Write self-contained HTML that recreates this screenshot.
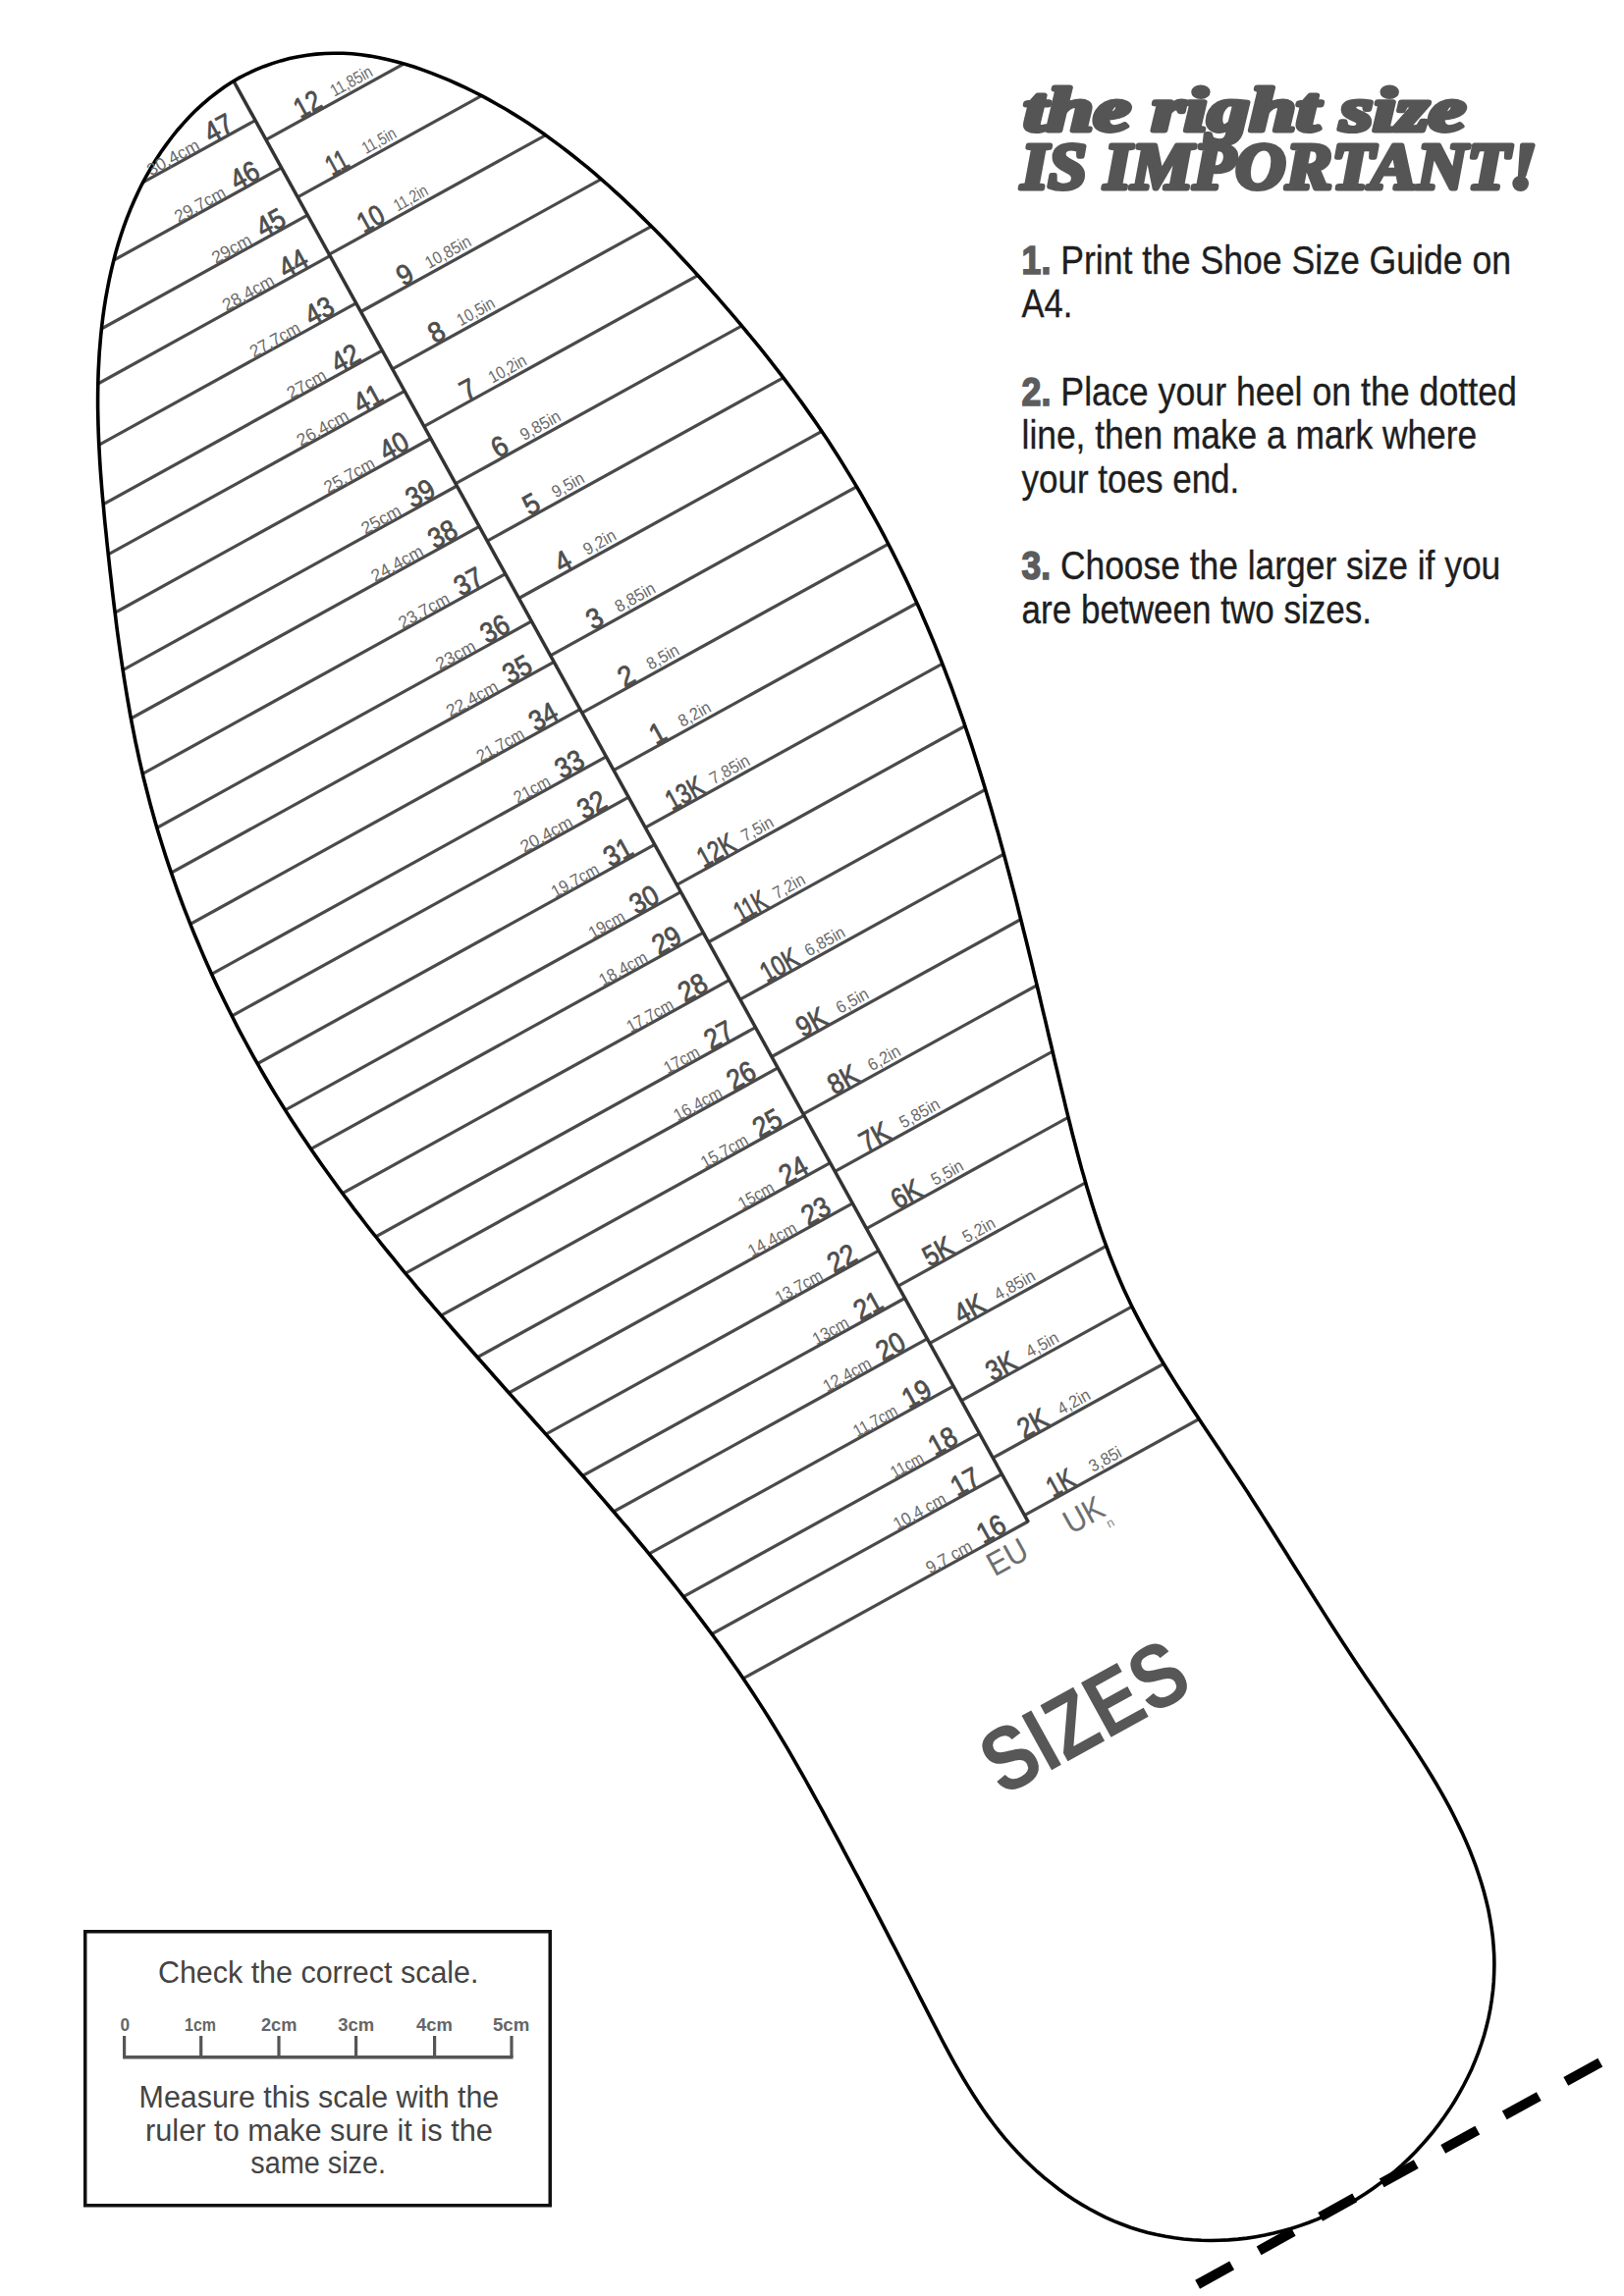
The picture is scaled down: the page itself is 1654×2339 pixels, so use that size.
<!DOCTYPE html>
<html><head><meta charset="utf-8">
<style>
html,body{margin:0;padding:0;background:#fff;}
body{width:1654px;height:2339px;position:relative;overflow:hidden;font-family:"Liberation Sans",sans-serif;}
svg{position:absolute;left:0;top:0;}
.n{font-family:"Liberation Sans",sans-serif;font-weight:normal;font-size:29px;fill:#4d4d4d;stroke:#4d4d4d;stroke-width:0.8;}
.s{font-family:"Liberation Sans",sans-serif;font-size:17.5px;fill:#6a6a6a;}
.h{font-family:"Liberation Serif",serif;font-weight:bold;font-style:italic;fill:#555;stroke:#555;stroke-width:5;stroke-linejoin:round;}
.p{font-family:"Liberation Sans",sans-serif;font-size:41px;fill:#1e1e1e;stroke:#1e1e1e;stroke-width:0.35;}
.pb{font-weight:bold;fill:#5c5c5c;stroke:#5c5c5c;stroke-width:1.6;}
.bt{font-family:"Liberation Sans",sans-serif;font-size:31px;fill:#444;}
.rl{font-family:"Liberation Sans",sans-serif;font-weight:bold;font-size:18px;fill:#666;}
</style></head><body>
<svg width="1654" height="2339" viewBox="0 0 1654 2339">
<defs><clipPath id="shoe"><path d="M102.8,340.7 L103.8,331.4 L104.9,322.2 L106.2,312.9 L107.7,303.6 L109.4,294.4 L111.2,285.2 L113.2,276.0 L115.4,266.9 L117.7,257.8 L120.3,248.8 L123.1,239.8 L126.1,230.9 L129.3,222.1 L132.8,213.4 L136.5,204.8 L140.4,196.2 L144.5,187.8 L148.9,179.5 L153.6,171.3 L158.5,163.2 L163.7,155.3 L169.1,147.6 L174.8,140.0 L180.6,132.7 L186.8,125.6 L193.1,118.7 L199.7,112.1 L206.6,105.8 L213.6,99.8 L220.9,94.2 L228.3,88.8 L236.0,83.8 L243.9,79.2 L252.0,75.0 L260.3,71.1 L268.8,67.7 L277.4,64.6 L286.1,61.9 L294.9,59.6 L303.9,57.7 L312.9,56.2 L322.0,55.1 L331.1,54.5 L340.3,54.2 L349.5,54.3 L358.6,54.8 L367.8,55.8 L377.0,57.1 L386.1,58.7 L395.2,60.7 L404.2,62.9 L413.2,65.5 L422.2,68.3 L431.0,71.4 L439.8,74.6 L448.5,78.1 L457.2,81.7 L465.7,85.5 L474.2,89.4 L482.5,93.5 L490.8,97.7 L499.0,102.1 L507.1,106.7 L515.2,111.3 L523.1,116.1 L531.0,121.1 L538.8,126.1 L546.5,131.3 L554.1,136.6 L561.7,142.1 L569.2,147.6 L576.6,153.2 L584.0,159.0 L591.3,164.8 L598.5,170.7 L605.6,176.7 L612.7,182.8 L619.7,189.0 L626.7,195.3 L633.6,201.6 L640.4,208.1 L647.2,214.5 L653.9,221.1 L660.6,227.7 L667.2,234.3 L673.8,241.0 L680.3,247.8 L686.7,254.6 L693.1,261.4 L699.5,268.2 L705.8,275.1 L712.1,282.0 L718.3,289.0 L724.4,295.9 L730.6,302.9 L736.6,309.9 L742.7,316.9 L748.7,323.9 L754.6,330.9 L760.5,338.0 L766.4,345.1 L772.2,352.2 L778.0,359.4 L783.7,366.6 L789.3,373.8 L795.0,381.1 L800.5,388.4 L806.0,395.8 L811.5,403.2 L816.9,410.6 L822.2,418.1 L827.5,425.6 L832.8,433.3 L838.0,440.9 L843.1,448.6 L848.2,456.4 L853.2,464.2 L858.1,472.1 L863.0,480.1 L867.9,488.1 L872.7,496.1 L877.4,504.2 L882.0,512.3 L886.6,520.5 L891.2,528.7 L895.7,536.9 L900.1,545.2 L904.4,553.5 L908.7,561.9 L912.9,570.2 L917.1,578.7 L921.2,587.1 L925.2,595.6 L929.1,604.1 L933.0,612.6 L936.9,621.1 L940.6,629.7 L944.3,638.2 L947.9,646.8 L951.5,655.4 L955.0,664.1 L958.4,672.7 L961.8,681.4 L965.1,690.1 L968.4,698.7 L971.6,707.5 L974.7,716.2 L977.8,724.9 L980.9,733.7 L983.9,742.5 L986.9,751.3 L989.8,760.1 L992.6,768.9 L995.4,777.7 L998.2,786.6 L1000.9,795.4 L1003.6,804.3 L1006.3,813.2 L1008.9,822.1 L1011.5,831.0 L1014.0,839.9 L1016.6,848.8 L1019.0,857.7 L1021.5,866.7 L1023.9,875.6 L1026.3,884.6 L1028.7,893.5 L1031.0,902.5 L1033.4,911.5 L1035.7,920.5 L1037.9,929.5 L1040.2,938.5 L1042.4,947.5 L1044.7,956.5 L1046.9,965.5 L1049.1,974.6 L1051.3,983.6 L1053.4,992.6 L1055.6,1001.7 L1057.8,1010.7 L1059.9,1019.8 L1062.0,1028.8 L1064.2,1037.9 L1066.3,1046.9 L1068.4,1056.0 L1070.6,1065.0 L1072.7,1074.1 L1074.8,1083.1 L1077.0,1092.2 L1079.1,1101.2 L1081.3,1110.3 L1083.5,1119.4 L1085.6,1128.4 L1087.8,1137.4 L1090.1,1146.5 L1092.3,1155.5 L1094.7,1164.5 L1097.0,1173.5 L1099.4,1182.5 L1101.8,1191.4 L1104.4,1200.3 L1106.9,1209.2 L1109.6,1218.1 L1112.3,1227.0 L1115.1,1235.8 L1118.0,1244.6 L1120.9,1253.3 L1124.0,1262.0 L1127.2,1270.7 L1130.4,1279.3 L1133.8,1287.9 L1137.3,1296.5 L1140.9,1305.0 L1144.6,1313.4 L1148.5,1321.8 L1152.5,1330.2 L1156.6,1338.4 L1160.9,1346.7 L1165.3,1354.9 L1169.8,1363.0 L1174.4,1371.1 L1179.1,1379.2 L1183.9,1387.2 L1188.8,1395.2 L1193.7,1403.1 L1198.7,1411.1 L1203.8,1419.0 L1208.9,1426.8 L1214.0,1434.7 L1219.2,1442.5 L1224.4,1450.4 L1229.6,1458.2 L1234.8,1466.0 L1240.0,1473.8 L1245.2,1481.6 L1250.4,1489.4 L1255.6,1497.2 L1260.7,1505.0 L1265.8,1512.8 L1270.9,1520.6 L1275.9,1528.5 L1280.9,1536.3 L1285.9,1544.1 L1290.9,1552.0 L1295.8,1559.8 L1300.8,1567.7 L1305.7,1575.5 L1310.6,1583.3 L1315.5,1591.2 L1320.4,1599.0 L1325.4,1606.9 L1330.3,1614.7 L1335.2,1622.5 L1340.1,1630.3 L1345.1,1638.1 L1350.0,1645.9 L1355.0,1653.7 L1360.0,1661.5 L1365.0,1669.3 L1370.1,1677.0 L1375.2,1684.8 L1380.3,1692.5 L1385.5,1700.2 L1390.7,1707.9 L1395.9,1715.6 L1401.2,1723.3 L1406.5,1731.0 L1411.7,1738.7 L1417.0,1746.4 L1422.3,1754.1 L1427.5,1761.8 L1432.7,1769.6 L1437.9,1777.4 L1443.0,1785.2 L1448.0,1793.1 L1453.0,1801.0 L1457.9,1809.0 L1462.7,1817.0 L1467.4,1825.1 L1471.9,1833.2 L1476.4,1841.4 L1480.7,1849.7 L1484.8,1858.1 L1488.9,1866.6 L1492.7,1875.1 L1496.4,1883.7 L1499.8,1892.4 L1503.1,1901.2 L1506.1,1910.0 L1508.9,1918.8 L1511.5,1927.7 L1513.8,1936.7 L1515.9,1945.7 L1517.6,1954.8 L1519.1,1963.9 L1520.3,1973.0 L1521.1,1982.1 L1521.7,1991.3 L1521.9,2000.5 L1521.7,2009.7 L1521.3,2018.9 L1520.5,2028.0 L1519.3,2037.2 L1517.9,2046.3 L1516.1,2055.3 L1514.0,2064.3 L1511.6,2073.2 L1508.8,2082.0 L1505.8,2090.7 L1502.4,2099.3 L1498.8,2107.9 L1494.8,2116.3 L1490.6,2124.5 L1486.1,2132.7 L1481.4,2140.7 L1476.4,2148.6 L1471.1,2156.3 L1465.6,2163.9 L1459.9,2171.3 L1453.9,2178.5 L1447.7,2185.6 L1441.3,2192.4 L1434.7,2199.1 L1427.9,2205.5 L1420.8,2211.8 L1413.6,2217.8 L1406.3,2223.6 L1398.7,2229.2 L1391.0,2234.5 L1383.1,2239.5 L1375.0,2244.4 L1366.9,2248.9 L1358.5,2253.2 L1350.1,2257.2 L1341.5,2260.9 L1332.8,2264.3 L1324.0,2267.4 L1315.2,2270.3 L1306.2,2272.8 L1297.2,2275.1 L1288.1,2277.1 L1278.9,2278.7 L1269.8,2280.1 L1260.6,2281.1 L1251.3,2281.9 L1242.1,2282.3 L1232.9,2282.5 L1223.7,2282.3 L1214.5,2281.8 L1205.3,2281.0 L1196.2,2279.8 L1187.1,2278.3 L1178.1,2276.6 L1169.1,2274.4 L1160.3,2272.0 L1151.5,2269.2 L1142.9,2266.0 L1134.3,2262.6 L1125.9,2258.8 L1117.6,2254.7 L1109.4,2250.3 L1101.4,2245.6 L1093.5,2240.7 L1085.7,2235.4 L1078.1,2230.0 L1070.7,2224.2 L1063.4,2218.3 L1056.3,2212.2 L1049.4,2205.8 L1042.7,2199.2 L1036.2,2192.5 L1029.9,2185.6 L1023.7,2178.6 L1017.8,2171.4 L1012.1,2164.0 L1006.6,2156.6 L1001.2,2149.0 L996.0,2141.3 L991.0,2133.5 L986.1,2125.6 L981.3,2117.7 L976.6,2109.6 L972.0,2101.6 L967.5,2093.4 L963.1,2085.2 L958.8,2077.0 L954.5,2068.7 L950.2,2060.4 L946.0,2052.1 L941.8,2043.9 L937.5,2035.6 L933.3,2027.3 L929.1,2019.0 L924.9,2010.8 L920.6,2002.5 L916.4,1994.3 L912.2,1986.0 L907.9,1977.8 L903.7,1969.6 L899.4,1961.4 L895.1,1953.2 L890.9,1945.0 L886.6,1936.8 L882.3,1928.5 L878.0,1920.4 L873.7,1912.2 L869.3,1904.0 L865.0,1895.8 L860.6,1887.6 L856.3,1879.4 L851.9,1871.2 L847.5,1863.0 L843.1,1854.8 L838.7,1846.6 L834.2,1838.5 L829.7,1830.3 L825.2,1822.1 L820.7,1814.0 L816.1,1805.9 L811.5,1797.8 L806.8,1789.7 L802.2,1781.6 L797.4,1773.6 L792.6,1765.6 L787.8,1757.7 L782.9,1749.8 L777.9,1741.9 L772.9,1734.1 L767.8,1726.3 L762.7,1718.5 L757.5,1710.8 L752.3,1703.1 L747.0,1695.5 L741.7,1687.9 L736.3,1680.3 L730.9,1672.8 L725.4,1665.3 L719.9,1657.9 L714.3,1650.4 L708.7,1643.0 L703.1,1635.7 L697.4,1628.3 L691.7,1621.0 L685.9,1613.7 L680.1,1606.4 L674.3,1599.2 L668.5,1592.0 L662.6,1584.8 L656.7,1577.6 L650.7,1570.5 L644.8,1563.3 L638.8,1556.2 L632.7,1549.1 L626.7,1542.0 L620.7,1535.0 L614.6,1527.9 L608.5,1520.9 L602.4,1513.8 L596.3,1506.8 L590.1,1499.8 L584.0,1492.8 L577.8,1485.8 L571.6,1478.8 L565.5,1471.9 L559.3,1464.9 L553.1,1457.9 L546.9,1451.0 L540.7,1444.0 L534.5,1437.0 L528.3,1430.1 L522.1,1423.1 L515.9,1416.2 L509.7,1409.2 L503.5,1402.2 L497.4,1395.3 L491.2,1388.3 L485.0,1381.3 L478.9,1374.3 L472.8,1367.3 L466.6,1360.3 L460.5,1353.3 L454.4,1346.2 L448.4,1339.2 L442.3,1332.1 L436.3,1325.0 L430.3,1318.0 L424.3,1310.8 L418.4,1303.7 L412.4,1296.6 L406.5,1289.4 L400.7,1282.2 L394.8,1275.0 L389.0,1267.8 L383.3,1260.5 L377.5,1253.3 L371.8,1246.0 L366.2,1238.6 L360.5,1231.3 L355.0,1223.9 L349.4,1216.5 L343.9,1209.0 L338.5,1201.5 L333.1,1194.0 L327.7,1186.5 L322.4,1178.9 L317.1,1171.3 L311.9,1163.6 L306.8,1155.9 L301.7,1148.2 L296.6,1140.4 L291.6,1132.6 L286.7,1124.8 L281.8,1116.9 L277.0,1109.0 L272.3,1101.0 L267.6,1093.0 L263.0,1084.9 L258.4,1076.8 L253.9,1068.7 L249.5,1060.5 L245.1,1052.3 L240.8,1044.1 L236.6,1035.8 L232.4,1027.5 L228.3,1019.2 L224.2,1010.8 L220.2,1002.4 L216.3,993.9 L212.5,985.4 L208.7,976.9 L205.0,968.4 L201.4,959.8 L197.8,951.2 L194.3,942.6 L190.9,933.9 L187.5,925.3 L184.2,916.5 L181.0,907.8 L177.9,899.0 L174.8,890.2 L171.8,881.4 L168.9,872.6 L166.1,863.7 L163.3,854.8 L160.6,845.9 L158.0,837.0 L155.5,828.0 L153.0,819.0 L150.7,810.0 L148.4,801.0 L146.1,792.0 L144.0,782.9 L141.9,773.9 L140.0,764.8 L138.0,755.7 L136.2,746.5 L134.4,737.4 L132.7,728.3 L131.1,719.1 L129.5,709.9 L128.0,700.7 L126.5,691.5 L125.1,682.3 L123.7,673.1 L122.4,663.9 L121.1,654.7 L119.8,645.5 L118.6,636.2 L117.5,627.0 L116.3,617.8 L115.2,608.5 L114.1,599.3 L113.1,590.0 L112.0,580.8 L111.0,571.5 L110.0,562.3 L109.0,553.1 L108.1,543.8 L107.1,534.6 L106.2,525.4 L105.4,516.2 L104.5,507.0 L103.7,497.7 L103.0,488.5 L102.3,479.3 L101.7,470.1 L101.2,460.9 L100.7,451.6 L100.3,442.4 L100.0,433.2 L99.8,424.0 L99.6,414.7 L99.6,405.5 L99.7,396.3 L99.9,387.0 L100.2,377.8 L100.7,368.5 L101.2,359.3 L102.0,350.0Z"/></clipPath></defs>
<g clip-path="url(#shoe)">
<g transform="translate(1047.0,1550.0) rotate(-28.87)" stroke="#4a4a4a" stroke-width="3.2">
<line x1="-1300" y1="-1629.9" x2="0" y2="-1629.9"/>
<line x1="-1300" y1="-1574.8" x2="0" y2="-1574.8"/>
<line x1="-1300" y1="-1519.7" x2="0" y2="-1519.7"/>
<line x1="-1300" y1="-1472.4" x2="0" y2="-1472.4"/>
<line x1="-1300" y1="-1417.3" x2="0" y2="-1417.3"/>
<line x1="-1300" y1="-1362.2" x2="0" y2="-1362.2"/>
<line x1="-1300" y1="-1315.0" x2="0" y2="-1315.0"/>
<line x1="-1300" y1="-1259.8" x2="0" y2="-1259.8"/>
<line x1="-1300" y1="-1204.7" x2="0" y2="-1204.7"/>
<line x1="-1300" y1="-1157.5" x2="0" y2="-1157.5"/>
<line x1="-1300" y1="-1102.4" x2="0" y2="-1102.4"/>
<line x1="-1300" y1="-1047.2" x2="0" y2="-1047.2"/>
<line x1="-1300" y1="-1000.0" x2="0" y2="-1000.0"/>
<line x1="-1300" y1="-944.9" x2="0" y2="-944.9"/>
<line x1="-1300" y1="-889.8" x2="0" y2="-889.8"/>
<line x1="-1300" y1="-842.5" x2="0" y2="-842.5"/>
<line x1="-1300" y1="-787.4" x2="0" y2="-787.4"/>
<line x1="-1300" y1="-732.3" x2="0" y2="-732.3"/>
<line x1="-1300" y1="-685.0" x2="0" y2="-685.0"/>
<line x1="-1300" y1="-629.9" x2="0" y2="-629.9"/>
<line x1="-1300" y1="-574.8" x2="0" y2="-574.8"/>
<line x1="-1300" y1="-527.6" x2="0" y2="-527.6"/>
<line x1="-1300" y1="-472.4" x2="0" y2="-472.4"/>
<line x1="-1300" y1="-417.3" x2="0" y2="-417.3"/>
<line x1="-1300" y1="-370.1" x2="0" y2="-370.1"/>
<line x1="-1300" y1="-315.0" x2="0" y2="-315.0"/>
<line x1="-1300" y1="-259.8" x2="0" y2="-259.8"/>
<line x1="-1300" y1="-212.6" x2="0" y2="-212.6"/>
<line x1="-1300" y1="-157.5" x2="0" y2="-157.5"/>
<line x1="-1300" y1="-102.4" x2="0" y2="-102.4"/>
<line x1="-1300" y1="-55.1" x2="0" y2="-55.1"/>
<line x1="-1300" y1="-0.0" x2="0" y2="-0.0"/>
<line x1="0" y1="-1607.4" x2="1300" y2="-1607.4"/>
<line x1="0" y1="-1540.7" x2="1300" y2="-1540.7"/>
<line x1="0" y1="-1474.0" x2="1300" y2="-1474.0"/>
<line x1="0" y1="-1407.4" x2="1300" y2="-1407.4"/>
<line x1="0" y1="-1340.7" x2="1300" y2="-1340.7"/>
<line x1="0" y1="-1274.0" x2="1300" y2="-1274.0"/>
<line x1="0" y1="-1207.4" x2="1300" y2="-1207.4"/>
<line x1="0" y1="-1140.7" x2="1300" y2="-1140.7"/>
<line x1="0" y1="-1074.0" x2="1300" y2="-1074.0"/>
<line x1="0" y1="-1007.4" x2="1300" y2="-1007.4"/>
<line x1="0" y1="-940.7" x2="1300" y2="-940.7"/>
<line x1="0" y1="-874.0" x2="1300" y2="-874.0"/>
<line x1="0" y1="-807.3" x2="1300" y2="-807.3"/>
<line x1="0" y1="-740.7" x2="1300" y2="-740.7"/>
<line x1="0" y1="-674.0" x2="1300" y2="-674.0"/>
<line x1="0" y1="-607.3" x2="1300" y2="-607.3"/>
<line x1="0" y1="-540.7" x2="1300" y2="-540.7"/>
<line x1="0" y1="-474.0" x2="1300" y2="-474.0"/>
<line x1="0" y1="-407.3" x2="1300" y2="-407.3"/>
<line x1="0" y1="-340.7" x2="1300" y2="-340.7"/>
<line x1="0" y1="-274.0" x2="1300" y2="-274.0"/>
<line x1="0" y1="-207.3" x2="1300" y2="-207.3"/>
<line x1="0" y1="-140.6" x2="1300" y2="-140.6"/>
<line x1="0" y1="-74.0" x2="1300" y2="-74.0"/>
<line x1="0" y1="-7.3" x2="1300" y2="-7.3"/>
</g>
<g transform="translate(1047.0,1550.0) rotate(-28.87)">
<line x1="0" y1="-1800" x2="0" y2="1" stroke="#333" stroke-width="3.5"/>
</g>
</g>
<path d="M102.8,340.7 L103.8,331.4 L104.9,322.2 L106.2,312.9 L107.7,303.6 L109.4,294.4 L111.2,285.2 L113.2,276.0 L115.4,266.9 L117.7,257.8 L120.3,248.8 L123.1,239.8 L126.1,230.9 L129.3,222.1 L132.8,213.4 L136.5,204.8 L140.4,196.2 L144.5,187.8 L148.9,179.5 L153.6,171.3 L158.5,163.2 L163.7,155.3 L169.1,147.6 L174.8,140.0 L180.6,132.7 L186.8,125.6 L193.1,118.7 L199.7,112.1 L206.6,105.8 L213.6,99.8 L220.9,94.2 L228.3,88.8 L236.0,83.8 L243.9,79.2 L252.0,75.0 L260.3,71.1 L268.8,67.7 L277.4,64.6 L286.1,61.9 L294.9,59.6 L303.9,57.7 L312.9,56.2 L322.0,55.1 L331.1,54.5 L340.3,54.2 L349.5,54.3 L358.6,54.8 L367.8,55.8 L377.0,57.1 L386.1,58.7 L395.2,60.7 L404.2,62.9 L413.2,65.5 L422.2,68.3 L431.0,71.4 L439.8,74.6 L448.5,78.1 L457.2,81.7 L465.7,85.5 L474.2,89.4 L482.5,93.5 L490.8,97.7 L499.0,102.1 L507.1,106.7 L515.2,111.3 L523.1,116.1 L531.0,121.1 L538.8,126.1 L546.5,131.3 L554.1,136.6 L561.7,142.1 L569.2,147.6 L576.6,153.2 L584.0,159.0 L591.3,164.8 L598.5,170.7 L605.6,176.7 L612.7,182.8 L619.7,189.0 L626.7,195.3 L633.6,201.6 L640.4,208.1 L647.2,214.5 L653.9,221.1 L660.6,227.7 L667.2,234.3 L673.8,241.0 L680.3,247.8 L686.7,254.6 L693.1,261.4 L699.5,268.2 L705.8,275.1 L712.1,282.0 L718.3,289.0 L724.4,295.9 L730.6,302.9 L736.6,309.9 L742.7,316.9 L748.7,323.9 L754.6,330.9 L760.5,338.0 L766.4,345.1 L772.2,352.2 L778.0,359.4 L783.7,366.6 L789.3,373.8 L795.0,381.1 L800.5,388.4 L806.0,395.8 L811.5,403.2 L816.9,410.6 L822.2,418.1 L827.5,425.6 L832.8,433.3 L838.0,440.9 L843.1,448.6 L848.2,456.4 L853.2,464.2 L858.1,472.1 L863.0,480.1 L867.9,488.1 L872.7,496.1 L877.4,504.2 L882.0,512.3 L886.6,520.5 L891.2,528.7 L895.7,536.9 L900.1,545.2 L904.4,553.5 L908.7,561.9 L912.9,570.2 L917.1,578.7 L921.2,587.1 L925.2,595.6 L929.1,604.1 L933.0,612.6 L936.9,621.1 L940.6,629.7 L944.3,638.2 L947.9,646.8 L951.5,655.4 L955.0,664.1 L958.4,672.7 L961.8,681.4 L965.1,690.1 L968.4,698.7 L971.6,707.5 L974.7,716.2 L977.8,724.9 L980.9,733.7 L983.9,742.5 L986.9,751.3 L989.8,760.1 L992.6,768.9 L995.4,777.7 L998.2,786.6 L1000.9,795.4 L1003.6,804.3 L1006.3,813.2 L1008.9,822.1 L1011.5,831.0 L1014.0,839.9 L1016.6,848.8 L1019.0,857.7 L1021.5,866.7 L1023.9,875.6 L1026.3,884.6 L1028.7,893.5 L1031.0,902.5 L1033.4,911.5 L1035.7,920.5 L1037.9,929.5 L1040.2,938.5 L1042.4,947.5 L1044.7,956.5 L1046.9,965.5 L1049.1,974.6 L1051.3,983.6 L1053.4,992.6 L1055.6,1001.7 L1057.8,1010.7 L1059.9,1019.8 L1062.0,1028.8 L1064.2,1037.9 L1066.3,1046.9 L1068.4,1056.0 L1070.6,1065.0 L1072.7,1074.1 L1074.8,1083.1 L1077.0,1092.2 L1079.1,1101.2 L1081.3,1110.3 L1083.5,1119.4 L1085.6,1128.4 L1087.8,1137.4 L1090.1,1146.5 L1092.3,1155.5 L1094.7,1164.5 L1097.0,1173.5 L1099.4,1182.5 L1101.8,1191.4 L1104.4,1200.3 L1106.9,1209.2 L1109.6,1218.1 L1112.3,1227.0 L1115.1,1235.8 L1118.0,1244.6 L1120.9,1253.3 L1124.0,1262.0 L1127.2,1270.7 L1130.4,1279.3 L1133.8,1287.9 L1137.3,1296.5 L1140.9,1305.0 L1144.6,1313.4 L1148.5,1321.8 L1152.5,1330.2 L1156.6,1338.4 L1160.9,1346.7 L1165.3,1354.9 L1169.8,1363.0 L1174.4,1371.1 L1179.1,1379.2 L1183.9,1387.2 L1188.8,1395.2 L1193.7,1403.1 L1198.7,1411.1 L1203.8,1419.0 L1208.9,1426.8 L1214.0,1434.7 L1219.2,1442.5 L1224.4,1450.4 L1229.6,1458.2 L1234.8,1466.0 L1240.0,1473.8 L1245.2,1481.6 L1250.4,1489.4 L1255.6,1497.2 L1260.7,1505.0 L1265.8,1512.8 L1270.9,1520.6 L1275.9,1528.5 L1280.9,1536.3 L1285.9,1544.1 L1290.9,1552.0 L1295.8,1559.8 L1300.8,1567.7 L1305.7,1575.5 L1310.6,1583.3 L1315.5,1591.2 L1320.4,1599.0 L1325.4,1606.9 L1330.3,1614.7 L1335.2,1622.5 L1340.1,1630.3 L1345.1,1638.1 L1350.0,1645.9 L1355.0,1653.7 L1360.0,1661.5 L1365.0,1669.3 L1370.1,1677.0 L1375.2,1684.8 L1380.3,1692.5 L1385.5,1700.2 L1390.7,1707.9 L1395.9,1715.6 L1401.2,1723.3 L1406.5,1731.0 L1411.7,1738.7 L1417.0,1746.4 L1422.3,1754.1 L1427.5,1761.8 L1432.7,1769.6 L1437.9,1777.4 L1443.0,1785.2 L1448.0,1793.1 L1453.0,1801.0 L1457.9,1809.0 L1462.7,1817.0 L1467.4,1825.1 L1471.9,1833.2 L1476.4,1841.4 L1480.7,1849.7 L1484.8,1858.1 L1488.9,1866.6 L1492.7,1875.1 L1496.4,1883.7 L1499.8,1892.4 L1503.1,1901.2 L1506.1,1910.0 L1508.9,1918.8 L1511.5,1927.7 L1513.8,1936.7 L1515.9,1945.7 L1517.6,1954.8 L1519.1,1963.9 L1520.3,1973.0 L1521.1,1982.1 L1521.7,1991.3 L1521.9,2000.5 L1521.7,2009.7 L1521.3,2018.9 L1520.5,2028.0 L1519.3,2037.2 L1517.9,2046.3 L1516.1,2055.3 L1514.0,2064.3 L1511.6,2073.2 L1508.8,2082.0 L1505.8,2090.7 L1502.4,2099.3 L1498.8,2107.9 L1494.8,2116.3 L1490.6,2124.5 L1486.1,2132.7 L1481.4,2140.7 L1476.4,2148.6 L1471.1,2156.3 L1465.6,2163.9 L1459.9,2171.3 L1453.9,2178.5 L1447.7,2185.6 L1441.3,2192.4 L1434.7,2199.1 L1427.9,2205.5 L1420.8,2211.8 L1413.6,2217.8 L1406.3,2223.6 L1398.7,2229.2 L1391.0,2234.5 L1383.1,2239.5 L1375.0,2244.4 L1366.9,2248.9 L1358.5,2253.2 L1350.1,2257.2 L1341.5,2260.9 L1332.8,2264.3 L1324.0,2267.4 L1315.2,2270.3 L1306.2,2272.8 L1297.2,2275.1 L1288.1,2277.1 L1278.9,2278.7 L1269.8,2280.1 L1260.6,2281.1 L1251.3,2281.9 L1242.1,2282.3 L1232.9,2282.5 L1223.7,2282.3 L1214.5,2281.8 L1205.3,2281.0 L1196.2,2279.8 L1187.1,2278.3 L1178.1,2276.6 L1169.1,2274.4 L1160.3,2272.0 L1151.5,2269.2 L1142.9,2266.0 L1134.3,2262.6 L1125.9,2258.8 L1117.6,2254.7 L1109.4,2250.3 L1101.4,2245.6 L1093.5,2240.7 L1085.7,2235.4 L1078.1,2230.0 L1070.7,2224.2 L1063.4,2218.3 L1056.3,2212.2 L1049.4,2205.8 L1042.7,2199.2 L1036.2,2192.5 L1029.9,2185.6 L1023.7,2178.6 L1017.8,2171.4 L1012.1,2164.0 L1006.6,2156.6 L1001.2,2149.0 L996.0,2141.3 L991.0,2133.5 L986.1,2125.6 L981.3,2117.7 L976.6,2109.6 L972.0,2101.6 L967.5,2093.4 L963.1,2085.2 L958.8,2077.0 L954.5,2068.7 L950.2,2060.4 L946.0,2052.1 L941.8,2043.9 L937.5,2035.6 L933.3,2027.3 L929.1,2019.0 L924.9,2010.8 L920.6,2002.5 L916.4,1994.3 L912.2,1986.0 L907.9,1977.8 L903.7,1969.6 L899.4,1961.4 L895.1,1953.2 L890.9,1945.0 L886.6,1936.8 L882.3,1928.5 L878.0,1920.4 L873.7,1912.2 L869.3,1904.0 L865.0,1895.8 L860.6,1887.6 L856.3,1879.4 L851.9,1871.2 L847.5,1863.0 L843.1,1854.8 L838.7,1846.6 L834.2,1838.5 L829.7,1830.3 L825.2,1822.1 L820.7,1814.0 L816.1,1805.9 L811.5,1797.8 L806.8,1789.7 L802.2,1781.6 L797.4,1773.6 L792.6,1765.6 L787.8,1757.7 L782.9,1749.8 L777.9,1741.9 L772.9,1734.1 L767.8,1726.3 L762.7,1718.5 L757.5,1710.8 L752.3,1703.1 L747.0,1695.5 L741.7,1687.9 L736.3,1680.3 L730.9,1672.8 L725.4,1665.3 L719.9,1657.9 L714.3,1650.4 L708.7,1643.0 L703.1,1635.7 L697.4,1628.3 L691.7,1621.0 L685.9,1613.7 L680.1,1606.4 L674.3,1599.2 L668.5,1592.0 L662.6,1584.8 L656.7,1577.6 L650.7,1570.5 L644.8,1563.3 L638.8,1556.2 L632.7,1549.1 L626.7,1542.0 L620.7,1535.0 L614.6,1527.9 L608.5,1520.9 L602.4,1513.8 L596.3,1506.8 L590.1,1499.8 L584.0,1492.8 L577.8,1485.8 L571.6,1478.8 L565.5,1471.9 L559.3,1464.9 L553.1,1457.9 L546.9,1451.0 L540.7,1444.0 L534.5,1437.0 L528.3,1430.1 L522.1,1423.1 L515.9,1416.2 L509.7,1409.2 L503.5,1402.2 L497.4,1395.3 L491.2,1388.3 L485.0,1381.3 L478.9,1374.3 L472.8,1367.3 L466.6,1360.3 L460.5,1353.3 L454.4,1346.2 L448.4,1339.2 L442.3,1332.1 L436.3,1325.0 L430.3,1318.0 L424.3,1310.8 L418.4,1303.7 L412.4,1296.6 L406.5,1289.4 L400.7,1282.2 L394.8,1275.0 L389.0,1267.8 L383.3,1260.5 L377.5,1253.3 L371.8,1246.0 L366.2,1238.6 L360.5,1231.3 L355.0,1223.9 L349.4,1216.5 L343.9,1209.0 L338.5,1201.5 L333.1,1194.0 L327.7,1186.5 L322.4,1178.9 L317.1,1171.3 L311.9,1163.6 L306.8,1155.9 L301.7,1148.2 L296.6,1140.4 L291.6,1132.6 L286.7,1124.8 L281.8,1116.9 L277.0,1109.0 L272.3,1101.0 L267.6,1093.0 L263.0,1084.9 L258.4,1076.8 L253.9,1068.7 L249.5,1060.5 L245.1,1052.3 L240.8,1044.1 L236.6,1035.8 L232.4,1027.5 L228.3,1019.2 L224.2,1010.8 L220.2,1002.4 L216.3,993.9 L212.5,985.4 L208.7,976.9 L205.0,968.4 L201.4,959.8 L197.8,951.2 L194.3,942.6 L190.9,933.9 L187.5,925.3 L184.2,916.5 L181.0,907.8 L177.9,899.0 L174.8,890.2 L171.8,881.4 L168.9,872.6 L166.1,863.7 L163.3,854.8 L160.6,845.9 L158.0,837.0 L155.5,828.0 L153.0,819.0 L150.7,810.0 L148.4,801.0 L146.1,792.0 L144.0,782.9 L141.9,773.9 L140.0,764.8 L138.0,755.7 L136.2,746.5 L134.4,737.4 L132.7,728.3 L131.1,719.1 L129.5,709.9 L128.0,700.7 L126.5,691.5 L125.1,682.3 L123.7,673.1 L122.4,663.9 L121.1,654.7 L119.8,645.5 L118.6,636.2 L117.5,627.0 L116.3,617.8 L115.2,608.5 L114.1,599.3 L113.1,590.0 L112.0,580.8 L111.0,571.5 L110.0,562.3 L109.0,553.1 L108.1,543.8 L107.1,534.6 L106.2,525.4 L105.4,516.2 L104.5,507.0 L103.7,497.7 L103.0,488.5 L102.3,479.3 L101.7,470.1 L101.2,460.9 L100.7,451.6 L100.3,442.4 L100.0,433.2 L99.8,424.0 L99.6,414.7 L99.6,405.5 L99.7,396.3 L99.9,387.0 L100.2,377.8 L100.7,368.5 L101.2,359.3 L102.0,350.0Z" fill="none" stroke="#000" stroke-width="3.6"/>
<g transform="translate(1047.0,1550.0) rotate(-28.87)">
<text class="n" x="-51" y="-1631.4" textLength="29" lengthAdjust="spacingAndGlyphs">47</text>
<text class="s" x="-120.6" y="-1631.4" textLength="58.1" lengthAdjust="spacingAndGlyphs">30,4cm</text>
<text class="n" x="-51" y="-1576.3" textLength="29" lengthAdjust="spacingAndGlyphs">46</text>
<text class="s" x="-118.9" y="-1576.3" textLength="56.4" lengthAdjust="spacingAndGlyphs">29,7cm</text>
<text class="n" x="-51" y="-1521.2" textLength="29" lengthAdjust="spacingAndGlyphs">45</text>
<text class="s" x="-106.0" y="-1521.2" textLength="43.5" lengthAdjust="spacingAndGlyphs">29cm</text>
<text class="n" x="-51" y="-1473.9" textLength="29" lengthAdjust="spacingAndGlyphs">44</text>
<text class="s" x="-119.9" y="-1473.9" textLength="57.4" lengthAdjust="spacingAndGlyphs">28,4cm</text>
<text class="n" x="-51" y="-1418.8" textLength="29" lengthAdjust="spacingAndGlyphs">43</text>
<text class="s" x="-118.2" y="-1418.8" textLength="55.7" lengthAdjust="spacingAndGlyphs">27,7cm</text>
<text class="n" x="-51" y="-1363.7" textLength="29" lengthAdjust="spacingAndGlyphs">42</text>
<text class="s" x="-105.3" y="-1363.7" textLength="42.8" lengthAdjust="spacingAndGlyphs">27cm</text>
<text class="n" x="-51" y="-1316.5" textLength="29" lengthAdjust="spacingAndGlyphs">41</text>
<text class="s" x="-119.9" y="-1316.5" textLength="57.4" lengthAdjust="spacingAndGlyphs">26,4cm</text>
<text class="n" x="-51" y="-1261.3" textLength="29" lengthAdjust="spacingAndGlyphs">40</text>
<text class="s" x="-118.7" y="-1261.3" textLength="56.2" lengthAdjust="spacingAndGlyphs">25,7cm</text>
<text class="n" x="-51" y="-1206.2" textLength="29" lengthAdjust="spacingAndGlyphs">39</text>
<text class="s" x="-105.8" y="-1206.2" textLength="43.3" lengthAdjust="spacingAndGlyphs">25cm</text>
<text class="n" x="-51" y="-1159.0" textLength="29" lengthAdjust="spacingAndGlyphs">38</text>
<text class="s" x="-120.3" y="-1159.0" textLength="57.8" lengthAdjust="spacingAndGlyphs">24,4cm</text>
<text class="n" x="-51" y="-1103.9" textLength="29" lengthAdjust="spacingAndGlyphs">37</text>
<text class="s" x="-118.9" y="-1103.9" textLength="56.4" lengthAdjust="spacingAndGlyphs">23,7cm</text>
<text class="n" x="-51" y="-1048.7" textLength="29" lengthAdjust="spacingAndGlyphs">36</text>
<text class="s" x="-106.0" y="-1048.7" textLength="43.5" lengthAdjust="spacingAndGlyphs">23cm</text>
<text class="n" x="-51" y="-1001.5" textLength="29" lengthAdjust="spacingAndGlyphs">35</text>
<text class="s" x="-119.9" y="-1001.5" textLength="57.4" lengthAdjust="spacingAndGlyphs">22,4cm</text>
<text class="n" x="-51" y="-946.4" textLength="29" lengthAdjust="spacingAndGlyphs">34</text>
<text class="s" x="-114.9" y="-946.4" textLength="52.4" lengthAdjust="spacingAndGlyphs">21,7cm</text>
<text class="n" x="-51" y="-891.3" textLength="29" lengthAdjust="spacingAndGlyphs">33</text>
<text class="s" x="-102.0" y="-891.3" textLength="39.5" lengthAdjust="spacingAndGlyphs">21cm</text>
<text class="n" x="-51" y="-844.0" textLength="29" lengthAdjust="spacingAndGlyphs">32</text>
<text class="s" x="-120.6" y="-844.0" textLength="58.1" lengthAdjust="spacingAndGlyphs">20,4cm</text>
<text class="n" x="-51" y="-788.9" textLength="29" lengthAdjust="spacingAndGlyphs">31</text>
<text class="s" x="-114.9" y="-788.9" textLength="52.4" lengthAdjust="spacingAndGlyphs">19,7cm</text>
<text class="n" x="-51" y="-733.8" textLength="29" lengthAdjust="spacingAndGlyphs">30</text>
<text class="s" x="-102.0" y="-733.8" textLength="39.5" lengthAdjust="spacingAndGlyphs">19cm</text>
<text class="n" x="-51" y="-686.5" textLength="29" lengthAdjust="spacingAndGlyphs">29</text>
<text class="s" x="-115.9" y="-686.5" textLength="53.4" lengthAdjust="spacingAndGlyphs">18,4cm</text>
<text class="n" x="-51" y="-631.4" textLength="29" lengthAdjust="spacingAndGlyphs">28</text>
<text class="s" x="-114.2" y="-631.4" textLength="51.7" lengthAdjust="spacingAndGlyphs">17,7cm</text>
<text class="n" x="-51" y="-576.3" textLength="29" lengthAdjust="spacingAndGlyphs">27</text>
<text class="s" x="-101.3" y="-576.3" textLength="38.8" lengthAdjust="spacingAndGlyphs">17cm</text>
<text class="n" x="-51" y="-529.1" textLength="29" lengthAdjust="spacingAndGlyphs">26</text>
<text class="s" x="-115.9" y="-529.1" textLength="53.4" lengthAdjust="spacingAndGlyphs">16,4cm</text>
<text class="n" x="-51" y="-473.9" textLength="29" lengthAdjust="spacingAndGlyphs">25</text>
<text class="s" x="-114.7" y="-473.9" textLength="52.2" lengthAdjust="spacingAndGlyphs">15,7cm</text>
<text class="n" x="-51" y="-418.8" textLength="29" lengthAdjust="spacingAndGlyphs">24</text>
<text class="s" x="-101.8" y="-418.8" textLength="39.3" lengthAdjust="spacingAndGlyphs">15cm</text>
<text class="n" x="-51" y="-371.6" textLength="29" lengthAdjust="spacingAndGlyphs">23</text>
<text class="s" x="-116.3" y="-371.6" textLength="53.8" lengthAdjust="spacingAndGlyphs">14,4cm</text>
<text class="n" x="-51" y="-316.5" textLength="29" lengthAdjust="spacingAndGlyphs">22</text>
<text class="s" x="-114.9" y="-316.5" textLength="52.4" lengthAdjust="spacingAndGlyphs">13,7cm</text>
<text class="n" x="-51" y="-261.3" textLength="29" lengthAdjust="spacingAndGlyphs">21</text>
<text class="s" x="-102.0" y="-261.3" textLength="39.5" lengthAdjust="spacingAndGlyphs">13cm</text>
<text class="n" x="-51" y="-214.1" textLength="29" lengthAdjust="spacingAndGlyphs">20</text>
<text class="s" x="-115.9" y="-214.1" textLength="53.4" lengthAdjust="spacingAndGlyphs">12,4cm</text>
<text class="n" x="-51" y="-159.0" textLength="29" lengthAdjust="spacingAndGlyphs">19</text>
<text class="s" x="-110.9" y="-159.0" textLength="48.4" lengthAdjust="spacingAndGlyphs">11,7cm</text>
<text class="n" x="-51" y="-103.9" textLength="29" lengthAdjust="spacingAndGlyphs">18</text>
<text class="s" x="-98.0" y="-103.9" textLength="35.5" lengthAdjust="spacingAndGlyphs">11cm</text>
<text class="n" x="-51" y="-56.6" textLength="29" lengthAdjust="spacingAndGlyphs">17</text>
<text class="s" x="-121.0" y="-56.6" textLength="58.5" lengthAdjust="spacingAndGlyphs">10,4 cm</text>
<text class="n" x="-51" y="-1.5" textLength="29" lengthAdjust="spacingAndGlyphs">16</text>
<text class="s" x="-113.5" y="-1.5" textLength="51.0" lengthAdjust="spacingAndGlyphs">9,7 cm</text>
<text class="n" x="41.0" y="-1608.9" textLength="27" lengthAdjust="spacingAndGlyphs">12</text>
<text class="s" x="82" y="-1611.9" textLength="46.0" lengthAdjust="spacingAndGlyphs">11,85in</text>
<text class="n" x="41.0" y="-1542.2" textLength="22" lengthAdjust="spacingAndGlyphs">11</text>
<text class="s" x="82" y="-1545.2" textLength="36.7" lengthAdjust="spacingAndGlyphs">11,5in</text>
<text class="n" x="41.0" y="-1475.5" textLength="27" lengthAdjust="spacingAndGlyphs">10</text>
<text class="s" x="82" y="-1478.5" textLength="36.9" lengthAdjust="spacingAndGlyphs">11,2in</text>
<text class="n" x="50.0" y="-1408.9" textLength="15" lengthAdjust="spacingAndGlyphs">9</text>
<text class="s" x="82" y="-1411.9" textLength="50.5" lengthAdjust="spacingAndGlyphs">10,85in</text>
<text class="n" x="50.0" y="-1342.2" textLength="15" lengthAdjust="spacingAndGlyphs">8</text>
<text class="s" x="82" y="-1345.2" textLength="41.2" lengthAdjust="spacingAndGlyphs">10,5in</text>
<text class="n" x="50.0" y="-1275.5" textLength="15" lengthAdjust="spacingAndGlyphs">7</text>
<text class="s" x="82" y="-1278.5" textLength="41.3" lengthAdjust="spacingAndGlyphs">10,2in</text>
<text class="n" x="50.0" y="-1208.9" textLength="15" lengthAdjust="spacingAndGlyphs">6</text>
<text class="s" x="82" y="-1211.9" textLength="44.3" lengthAdjust="spacingAndGlyphs">9,85in</text>
<text class="n" x="50.0" y="-1142.2" textLength="15" lengthAdjust="spacingAndGlyphs">5</text>
<text class="s" x="82" y="-1145.2" textLength="35.0" lengthAdjust="spacingAndGlyphs">9,5in</text>
<text class="n" x="50.0" y="-1075.5" textLength="15" lengthAdjust="spacingAndGlyphs">4</text>
<text class="s" x="82" y="-1078.5" textLength="35.2" lengthAdjust="spacingAndGlyphs">9,2in</text>
<text class="n" x="50.0" y="-1008.9" textLength="15" lengthAdjust="spacingAndGlyphs">3</text>
<text class="s" x="82" y="-1011.9" textLength="44.3" lengthAdjust="spacingAndGlyphs">8,85in</text>
<text class="n" x="50.0" y="-942.2" textLength="15" lengthAdjust="spacingAndGlyphs">2</text>
<text class="s" x="82" y="-945.2" textLength="35.0" lengthAdjust="spacingAndGlyphs">8,5in</text>
<text class="n" x="50.0" y="-875.5" textLength="15" lengthAdjust="spacingAndGlyphs">1</text>
<text class="s" x="82" y="-878.5" textLength="35.2" lengthAdjust="spacingAndGlyphs">8,2in</text>
<text class="n" x="32.0" y="-808.8" textLength="40" lengthAdjust="spacingAndGlyphs">13K</text>
<text class="s" x="82" y="-811.8" textLength="43.7" lengthAdjust="spacingAndGlyphs">7,85in</text>
<text class="n" x="32.0" y="-742.2" textLength="40" lengthAdjust="spacingAndGlyphs">12K</text>
<text class="s" x="82" y="-745.2" textLength="34.4" lengthAdjust="spacingAndGlyphs">7,5in</text>
<text class="n" x="38.0" y="-675.5" textLength="34" lengthAdjust="spacingAndGlyphs">11K</text>
<text class="s" x="82" y="-678.5" textLength="34.5" lengthAdjust="spacingAndGlyphs">7,2in</text>
<text class="n" x="32.0" y="-608.8" textLength="40" lengthAdjust="spacingAndGlyphs">10K</text>
<text class="s" x="82" y="-611.8" textLength="44.3" lengthAdjust="spacingAndGlyphs">6,85in</text>
<text class="n" x="37.0" y="-542.2" textLength="31" lengthAdjust="spacingAndGlyphs">9K</text>
<text class="s" x="82" y="-545.2" textLength="35.0" lengthAdjust="spacingAndGlyphs">6,5in</text>
<text class="n" x="37.0" y="-475.5" textLength="31" lengthAdjust="spacingAndGlyphs">8K</text>
<text class="s" x="82" y="-478.5" textLength="35.2" lengthAdjust="spacingAndGlyphs">6,2in</text>
<text class="n" x="37.0" y="-408.8" textLength="31" lengthAdjust="spacingAndGlyphs">7K</text>
<text class="s" x="82" y="-411.8" textLength="44.2" lengthAdjust="spacingAndGlyphs">5,85in</text>
<text class="n" x="37.0" y="-342.2" textLength="31" lengthAdjust="spacingAndGlyphs">6K</text>
<text class="s" x="82" y="-345.2" textLength="34.9" lengthAdjust="spacingAndGlyphs">5,5in</text>
<text class="n" x="37.0" y="-275.5" textLength="31" lengthAdjust="spacingAndGlyphs">5K</text>
<text class="s" x="82" y="-278.5" textLength="35.0" lengthAdjust="spacingAndGlyphs">5,2in</text>
<text class="n" x="37.0" y="-208.8" textLength="31" lengthAdjust="spacingAndGlyphs">4K</text>
<text class="s" x="82" y="-211.8" textLength="44.7" lengthAdjust="spacingAndGlyphs">4,85in</text>
<text class="n" x="37.0" y="-142.1" textLength="31" lengthAdjust="spacingAndGlyphs">3K</text>
<text class="s" x="82" y="-145.1" textLength="35.4" lengthAdjust="spacingAndGlyphs">4,5in</text>
<text class="n" x="37.0" y="-75.5" textLength="31" lengthAdjust="spacingAndGlyphs">2K</text>
<text class="s" x="82" y="-78.5" textLength="35.5" lengthAdjust="spacingAndGlyphs">4,2in</text>
<text class="n" x="34.0" y="-8.8" textLength="28" lengthAdjust="spacingAndGlyphs">1K</text>
<text class="s" x="82" y="-11.8" textLength="35.0" lengthAdjust="spacingAndGlyphs">3,85i</text>
<text x="-57" y="33" textLength="42" lengthAdjust="spacingAndGlyphs" style="font-family:'Liberation Sans',sans-serif;font-size:34px;fill:#6e6e6e;">EU</text>
<text x="32" y="33" textLength="42" lengthAdjust="spacingAndGlyphs" style="font-family:'Liberation Sans',sans-serif;font-size:34px;fill:#6e6e6e;">UK</text>
<text x="69" y="46" style="font-family:'Liberation Sans',sans-serif;font-size:13px;fill:#888;">n</text>
<text x="-158" y="233.3" textLength="224" lengthAdjust="spacingAndGlyphs" style="font-family:'Liberation Sans',sans-serif;font-weight:bold;font-size:92px;fill:#575757;">SIZES</text>
<line x1="-224.1" y1="764" x2="320" y2="764" stroke="#000" stroke-width="10" stroke-dasharray="40 31.4" stroke-dashoffset="0.0"/>
</g>
<text class="h" x="1042.5" y="133.0" textLength="450.5" lengthAdjust="spacingAndGlyphs" style="font-size:64px">the right size</text>
<text class="h" x="1040.0" y="192.0" textLength="525.0" lengthAdjust="spacingAndGlyphs" style="font-size:67px">IS IMPORTANT!</text>
<text class="p" x="1040.6" y="279.0" textLength="498.4" lengthAdjust="spacingAndGlyphs" ><tspan class="pb">1.</tspan> Print the Shoe Size Guide on</text>
<text class="p" x="1040.6" y="323.4" textLength="51.8" lengthAdjust="spacingAndGlyphs" >A4.</text>
<text class="p" x="1040.6" y="412.8" textLength="504.3" lengthAdjust="spacingAndGlyphs" ><tspan class="pb">2.</tspan> Place your heel on the dotted</text>
<text class="p" x="1040.6" y="457.0" textLength="463.6" lengthAdjust="spacingAndGlyphs" >line, then make a mark where</text>
<text class="p" x="1040.6" y="501.5" textLength="221.7" lengthAdjust="spacingAndGlyphs" >your toes end.</text>
<text class="p" x="1040.6" y="590.0" textLength="487.7" lengthAdjust="spacingAndGlyphs" ><tspan class="pb">3.</tspan> Choose the larger size if you</text>
<text class="p" x="1040.6" y="634.5" textLength="356.5" lengthAdjust="spacingAndGlyphs" >are between two sizes.</text>
<rect x="86.75" y="1967.75" width="473.5" height="279" fill="none" stroke="#111" stroke-width="3.5"/>
<text class="bt" x="160.9" y="2020.4" textLength="326.6" lengthAdjust="spacingAndGlyphs" >Check the correct scale.</text>
<text class="bt" x="141.6" y="2147.0" textLength="366.7" lengthAdjust="spacingAndGlyphs" >Measure this scale with the</text>
<text class="bt" x="148.0" y="2181.2" textLength="353.9" lengthAdjust="spacingAndGlyphs" >ruler to make sure it is the</text>
<text class="bt" x="255.3" y="2214.2" textLength="137.7" lengthAdjust="spacingAndGlyphs" >same size.</text>
<line x1="125.1" y1="2095.7" x2="522.5" y2="2095.7" stroke="#555" stroke-width="3.4"/>
<line x1="126.6" y1="2074" x2="126.6" y2="2096" stroke="#555" stroke-width="3.2"/>
<line x1="204.7" y1="2074" x2="204.7" y2="2096" stroke="#555" stroke-width="3.2"/>
<line x1="284.0" y1="2074" x2="284.0" y2="2096" stroke="#555" stroke-width="3.2"/>
<line x1="362.6" y1="2074" x2="362.6" y2="2096" stroke="#555" stroke-width="3.2"/>
<line x1="442.6" y1="2074" x2="442.6" y2="2096" stroke="#555" stroke-width="3.2"/>
<line x1="521.0" y1="2074" x2="521.0" y2="2096" stroke="#555" stroke-width="3.2"/>
<text class="rl" x="122.4" y="2068.5" textLength="9.6" lengthAdjust="spacingAndGlyphs" >0</text>
<text class="rl" x="188.0" y="2068.5" textLength="32.0" lengthAdjust="spacingAndGlyphs" >1cm</text>
<text class="rl" x="265.9" y="2068.5" textLength="36.5" lengthAdjust="spacingAndGlyphs" >2cm</text>
<text class="rl" x="344.3" y="2068.5" textLength="36.9" lengthAdjust="spacingAndGlyphs" >3cm</text>
<text class="rl" x="424.0" y="2068.5" textLength="36.9" lengthAdjust="spacingAndGlyphs" >4cm</text>
<text class="rl" x="501.9" y="2068.5" textLength="37.4" lengthAdjust="spacingAndGlyphs" >5cm</text>
</svg>
</body></html>
